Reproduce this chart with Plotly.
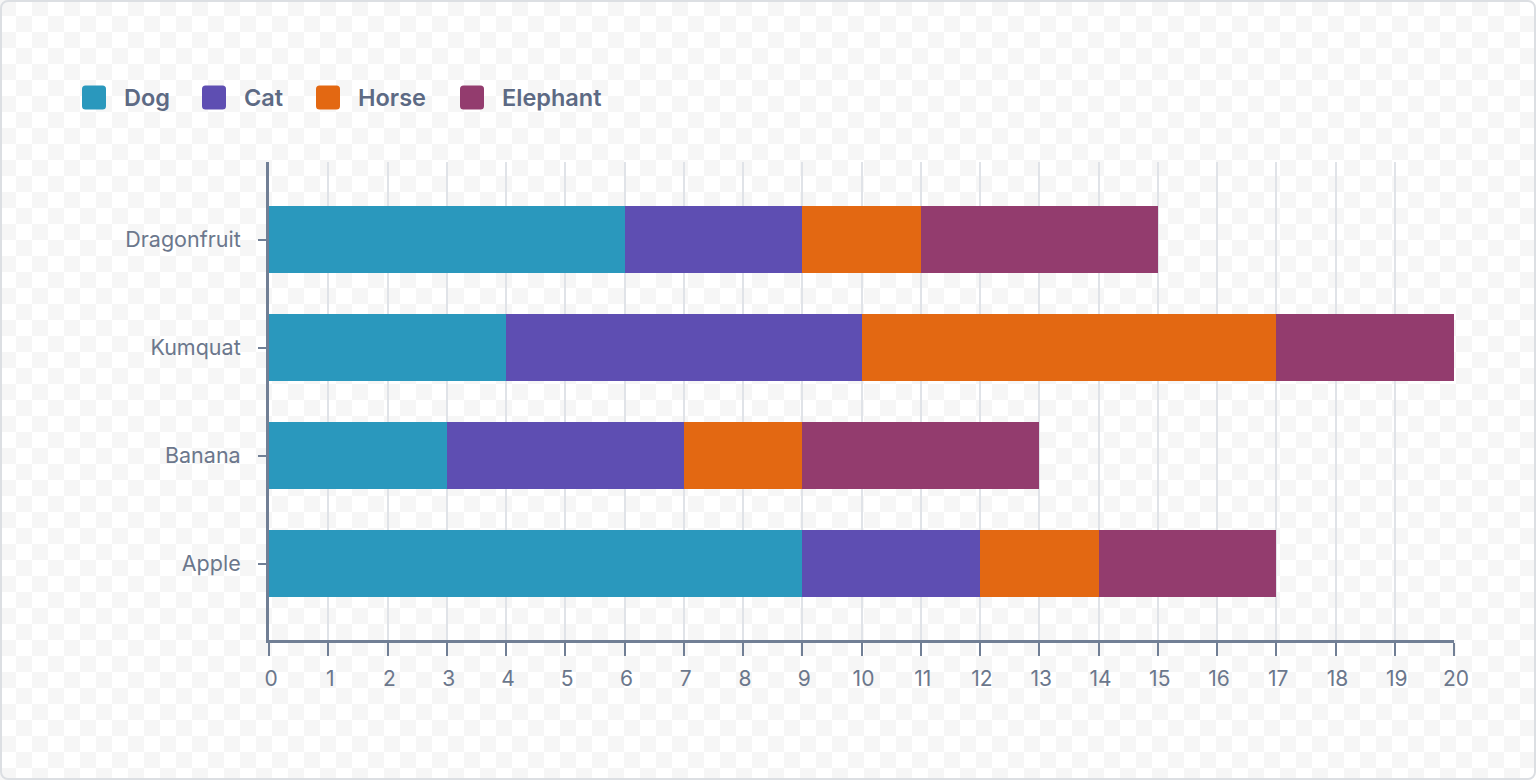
import base64
import plotly.graph_objects as go

# ---- data ----
categories = ["Apple", "Banana", "Kumquat", "Dragonfruit"]
series_names = ["Dog", "Cat", "Horse", "Elephant"]
dog = [9, 3, 4, 6]
cat = [3, 4, 6, 3]
horse = [2, 2, 7, 2]
elephant = [3, 4, 3, 4]
series_colors = ["#2a98bd", "#5e4eb2", "#e36812", "#933c6e"]
x_ticks = list(range(0, 21))

series_values = [dog, cat, horse, elephant]

# ---- layout geometry (px) ----
W, H = 1536, 780
ML, MR, MT, MB = 269, 82, 162, 140
PW, PH = W - ML - MR, H - MT - MB


def px_x(px):
    return (px - ML) / PW


def px_y(py):
    return (H - MB - py) / PH


TEXT = "#6b778c"
AXIS = "#717f95"
GRID = "#e0e3e8"

fig = go.Figure()
for name, vals, col in zip(series_names, series_values, series_colors):
    fig.add_trace(go.Bar(
        y=categories, x=vals, name=name, orientation="h",
        marker=dict(color=col, line=dict(width=0)),
        width=0.62, showlegend=False,
        hovertemplate=name + ": %{x}<extra>%{y}</extra>",
    ))

# background checkerboard + rounded border
svg = (
    f'<svg xmlns="http://www.w3.org/2000/svg" width="{W}" height="{H}" viewBox="0 0 {W} {H}">'
    '<defs><pattern id="c" width="32" height="32" patternUnits="userSpaceOnUse">'
    '<rect width="32" height="32" fill="#ffffff"/>'
    '<rect x="0" y="0" width="16" height="16" fill="#f6f6f6"/>'
    '<rect x="16" y="16" width="16" height="16" fill="#f6f6f6"/>'
    '</pattern></defs>'
    f'<rect x="0" y="0" width="{W}" height="{H}" fill="url(#c)"/>'
    f'<rect x="1" y="1" width="{W-2}" height="{H-2}" rx="7" ry="7" fill="none" stroke="#dcdfe3" stroke-width="2"/>'
    '</svg>'
)
src = "data:image/svg+xml;base64," + base64.b64encode(svg.encode()).decode()

# manual legend (rounded squares + labels)
legend_sq_x = [82, 202, 316, 460]
legend_y = 97.5
half, rad = 12, 3.5
sq_path = (
    f"M{-half+rad},{-half} L{half-rad},{-half} Q{half},{-half} {half},{-half+rad} "
    f"L{half},{half-rad} Q{half},{half} {half-rad},{half} "
    f"L{-half+rad},{half} Q{-half},{half} {-half},{half-rad} "
    f"L{-half},{-half+rad} Q{-half},{-half} {-half+rad},{-half} Z"
)
shapes = []
annotations = []
for name, col, sx in zip(series_names, series_colors, legend_sq_x):
    shapes.append(dict(
        type="path", xref="paper", yref="paper",
        xsizemode="pixel", ysizemode="pixel",
        xanchor=px_x(sx + half), yanchor=px_y(legend_y),
        path=sq_path, fillcolor=col, line=dict(width=0), layer="above",
    ))
    annotations.append(dict(
        text=name, xref="paper", yref="paper", x=px_x(sx + 2 * half + 16), y=px_y(legend_y),
        xanchor="left", yanchor="middle", showarrow=False,
        font=dict(family="Inter", size=23.5, color="#5d6a84", weight=600),
    ))

fig.update_layout(
    width=W, height=H,
    margin=dict(l=ML, r=MR, t=MT, b=MB, pad=0),
    barmode="stack",
    bargap=0,
    paper_bgcolor="#ffffff",
    plot_bgcolor="rgba(0,0,0,0)",
    font=dict(family="Inter", size=21, color=TEXT),
    images=[dict(source=src, xref="paper", yref="paper",
                 x=-ML / PW, y=1 + MT / PH, sizex=W / PW, sizey=H / PH,
                 xanchor="left", yanchor="top", sizing="stretch", layer="below")],
    shapes=shapes,
    annotations=annotations,
    xaxis=dict(
        range=[0, 20], tickvals=x_ticks, ticktext=[str(v) for v in x_ticks],
        showgrid=True, gridcolor=GRID, gridwidth=2,
        showline=True, linecolor=AXIS, linewidth=3,
        ticks="outside", ticklen=13, tickwidth=2, tickcolor=AXIS,
        ticklabelstandoff=5, ticklabelshift=2,
        tickfont=dict(family="Inter", size=21, color=TEXT),
        zeroline=False, fixedrange=True,
    ),
    yaxis=dict(
        categoryorder="array", categoryarray=categories,
        range=[-0.708, 3.719],
        showgrid=False,
        showline=True, linecolor=AXIS, linewidth=3,
        ticks="outside", ticklen=8, tickwidth=2, tickcolor=AXIS,
        ticklabelstandoff=13,
        tickfont=dict(family="Inter", size=21.5, color=TEXT),
        zeroline=False, fixedrange=True,
    ),
)

fig.write_html(
    "out.html",
    config={"displayModeBar": False},
    post_script="document.body.style.margin='0';document.body.style.overflow='hidden';",
)
